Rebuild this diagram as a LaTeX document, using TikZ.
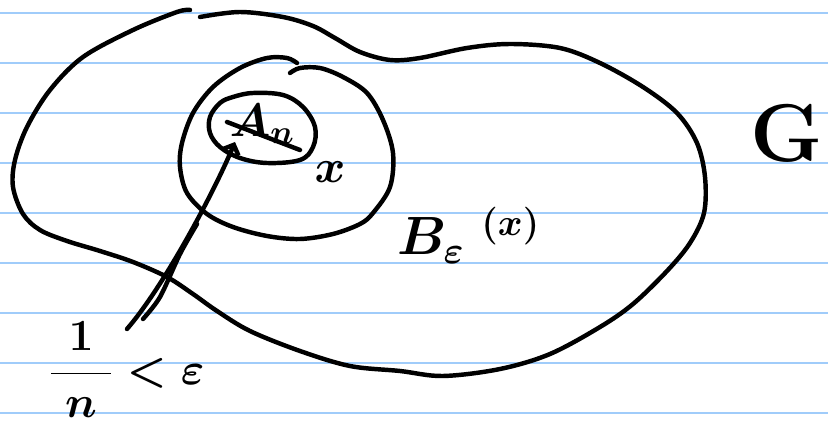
\RequirePackage{fix-cm}
\documentclass[tikz,border=0pt]{standalone}
\usetikzlibrary{arrows.meta}
\definecolor{ruleblue}{RGB}{160,204,250}
\tikzset{
  PEN/.style={line width=3.8pt, line cap=round, line join=round},
  RL/.style={line width=1.5pt, color=ruleblue},
  LB/.style={inner sep=0pt, outer sep=0pt, font=\fontsize{40}{48}\selectfont\boldmath},
  AR/.style={PEN, -{Straight Barb[length=2.4mm, width=5mm]}}
}

\begin{document}
\begin{tikzpicture}[x=0.03cm, y=-0.03cm]
\useasboundingbox (0,0) rectangle (828,428);

% Ruled paper
\foreach \y in {13,63,...,413}
  \draw[RL] (0,\y) -- (828,\y);

% Outer set G
\draw[PEN] plot[smooth, tension=0.55] coordinates {
  (200,17) (240,12) (283,17) (313,26) (335,38) (360,52) (390,60) (420,58)
  (467,48) (510,44) (560,48) (600,63) (643,87) (677,113) (697,143) (705,177)
  (704,213) (690,243) (667,271) (633,304) (600,327) (550,354) (500,369)
  (443,376) (400,371) (350,366) (300,351) (250,331) (217,311) (193,294)
  (167,277) (133,262) (100,251) (67,241) (40,230) (23,214) (13,187) (15,160)
  (27,127) (50,90) (83,57) (133,30) (177,12) (190,10)};

% Ball B_eps(x)
\draw[PEN] plot[smooth, tension=0.55] coordinates {
  (290,73) (300,68) (320,68) (343,77) (367,93) (383,120) (393,153) (390,187)
  (373,213) (360,224) (333,234) (300,239) (267,236) (233,227) (207,214)
  (187,193) (180,167) (182,143) (193,113) (213,87) (240,68) (267,58) (287,58)
  (297,63)};

% Set A_n
\draw[PEN] plot[smooth cycle, tension=0.6] coordinates {
  (233,97) (253,93) (283,95) (303,107) (315,127) (313,147) (300,160) (267,163)
  (240,158) (220,147) (210,133) (210,117) (220,103)};

% Labels
\node[LB] (An) at (262,124) {$A_n$};
\coordinate (barL) at (227,122);
\coordinate (barR) at (300,150);
\draw[PEN] (barL) -- (barR);

\node[LB] (x) at (330,172) {$x$};
\node[LB, font=\fontsize{46}{54}\selectfont\boldmath, anchor=base west] (Beps) at (397,255)
    {$B_{\varepsilon}\;{}^{(x)}$};
\node[LB, font=\fontsize{70}{80}\selectfont\boldmath, anchor=base west] (G) at (750,162)
    {$\mathrm{G}$};
\node[LB, font=\fontsize{38}{46}\selectfont\boldmath] (rad) at (127,370)
    {$\displaystyle\frac{\;1\;}{\;n\;}<\varepsilon$};

% Radius arrow
\coordinate (tail) at (127,329);
\coordinate (tip) at (235,142);
\draw[AR] (tail) .. controls (165,285) and (215,190) .. (tip);
\draw[PEN] plot[smooth] coordinates {(143,319) (160,297) (180,254) (197,224)};

\end{tikzpicture}
\end{document}
